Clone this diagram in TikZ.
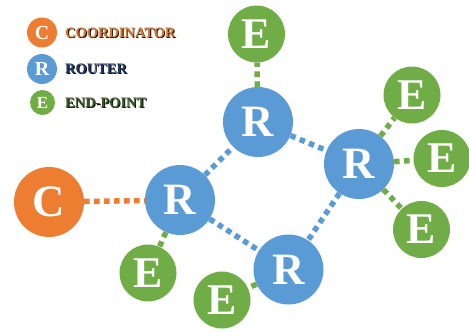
\documentclass[tikz,border=0pt]{standalone}
\usepackage{fontspec}
\setmainfont{Liberation Serif}
\definecolor{corange}{HTML}{ED7D31}
\definecolor{cblue}{HTML}{5B9BD5}
\definecolor{cgreen}{HTML}{70AD47}
\definecolor{tblue}{HTML}{1F3864}
\definecolor{tgreen}{HTML}{385723}
\definecolor{torange}{HTML}{D9782F}
\begin{document}
\begin{tikzpicture}[x=1bp,y=-1bp,
  bignode/.style={circle,minimum size=70bp,inner sep=0pt,text=white,font=\fontsize{45}{45}\selectfont\bfseries},
  endnode/.style={circle,fill=cgreen,minimum size=57bp,inner sep=0pt,text=white,font=\fontsize{44}{44}\selectfont\bfseries},
  legnode/.style={circle,minimum size=30bp,inner sep=0pt,text=white,font=\fontsize{20}{20}\selectfont\bfseries},
  link/.style={line width=5.5bp,dash pattern=on 5.5bp off 4.5bp},
  legtext/.style={anchor=west,inner sep=0pt,font=\fontsize{14.5}{14.5}\selectfont\bfseries}]
\useasboundingbox (0,0) rectangle (469,331);
% legend
\node[legnode,fill=corange] (lc) at (42,32.5) {C};
\node[legnode,fill=cblue] (lr) at (42,69) {R};
\node[legnode,fill=cgreen,minimum size=25bp,font=\fontsize{17}{17}\selectfont\bfseries] (le) at (42.5,102.5) {E};
\node[legtext,text=black] (lct0) at (65.9,33.4) {COORDINATOR};
\node[legtext,text=torange] (lct) at (65,32.5) {COORDINATOR};
\node[legtext,text=black] (lrt0) at (65.9,69.9) {ROUTER};
\node[legtext,text=tblue] (lrt) at (65,69) {ROUTER};
\node[legtext,text=black] (let0) at (65.9,103.4) {END-POINT};
\node[legtext,text=tgreen] (let) at (65,102.5) {END-POINT};
% main nodes
\node[bignode,fill=corange] (c) at (49,202) {C};
\node[bignode,fill=cblue] (r1) at (180,200) {R};
\node[bignode,fill=cblue] (r2) at (258,122) {R};
\node[bignode,fill=cblue] (r3) at (359,164) {R};
\node[bignode,fill=cblue] (r4) at (288.5,269.5) {R};
\node[endnode] (e1) at (256.5,34) {E};
\node[endnode] (e2) at (412,95) {E};
\node[endnode] (e3) at (442,158.5) {E};
\node[endnode] (e4) at (421.5,229.5) {E};
\node[endnode] (e5) at (148,273) {E};
\node[endnode] (e6) at (222,300) {E};
% links
\draw[link,corange] (c) -- (r1);
\draw[link,cblue] (r1) -- (r2);
\draw[link,cblue] (r1) -- (r4);
\draw[link,cblue] (r2) -- (r3);
\draw[link,cblue] (r3) -- (r4);
\draw[link,cgreen] (r2) -- (e1);
\draw[link,cgreen] (r3) -- (e2);
\draw[link,cgreen] (r3) -- (e3);
\draw[link,cgreen] (r3) -- (e4);
\draw[link,cgreen] (r1) -- (e5);
\draw[link,cgreen] (r4) -- (e6);
\end{tikzpicture}
\end{document}
